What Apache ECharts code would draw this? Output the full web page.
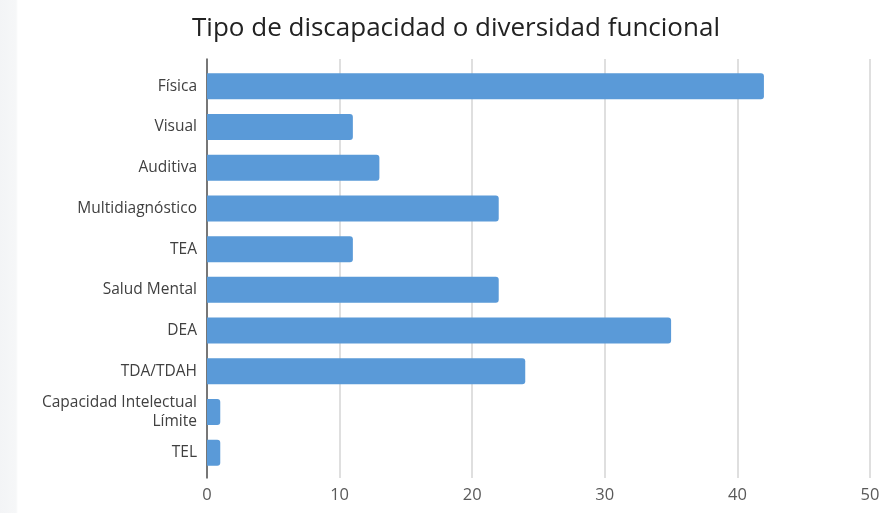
<!DOCTYPE html>
<html><head><meta charset="utf-8">
<script src="https://cdn.jsdelivr.net/npm/echarts@6/dist/echarts.min.js"></script>
<style>
html,body{margin:0;padding:0;width:884px;height:513px;overflow:hidden;background:linear-gradient(to right,#f3f4f6 0px,#f6f7f8 16px,#ffffff 18px,#ffffff 100%);}
#c{width:884px;height:513px;}
</style></head><body><div id="c"></div>
<script>
const categories = ['Física','Visual','Auditiva','Multidiagnóstico','TEA','Salud Mental','DEA','TDA/TDAH','Capacidad Intelectual\nLímite','TEL'];
const values = [42,11,13,22,11,22,35,24,1,1];
const xTicks = [0,10,20,30,40,50];

const chart = echarts.init(document.getElementById('c'), null, {renderer:'canvas'});
chart.setOption({
  backgroundColor:'transparent',
  animation:false,
  title:{text:'Tipo de discapacidad o diversidad funcional',left:451,textAlign:'center',top:11,
    textStyle:{fontFamily:'Open Sans',fontSize:26,fontWeight:'normal',color:'#222'}},
  grid:[
    {left:207,right:14,top:59,bottom:35},
    {left:207,right:14,top:66,bottom:40}
  ],
  xAxis:[
    {type:'value',gridIndex:0,min:xTicks[0],max:xTicks[xTicks.length-1],interval:10,
     axisLine:{show:false},axisTick:{show:false},
     splitLine:{lineStyle:{color:'#d4d4d4',width:1.5}},
     axisLabel:{margin:9,fontFamily:'Open Sans',fontSize:16.5,color:'#595959'}},
    {type:'value',gridIndex:1,min:xTicks[0],max:xTicks[xTicks.length-1],interval:10,show:false}
  ],
  yAxis:[
    {type:'category',gridIndex:0,data:[''],inverse:true,
     axisLine:{lineStyle:{color:'#555',width:1.5}},axisTick:{show:false},axisLabel:{show:false}},
    {type:'category',gridIndex:1,data:categories,inverse:true,
     axisLine:{show:false},axisTick:{show:false},
     axisLabel:{margin:10,fontFamily:'Open Sans',fontSize:15.5,color:'#404040',lineHeight:19,align:'right'}}
  ],
  series:[{
    type:'bar',xAxisIndex:1,yAxisIndex:1,data:values,
    barCategoryGap:'36%',
    itemStyle:{color:'#5A9AD8',borderRadius:[0,3,3,0]}
  }]
});
</script></body></html>
